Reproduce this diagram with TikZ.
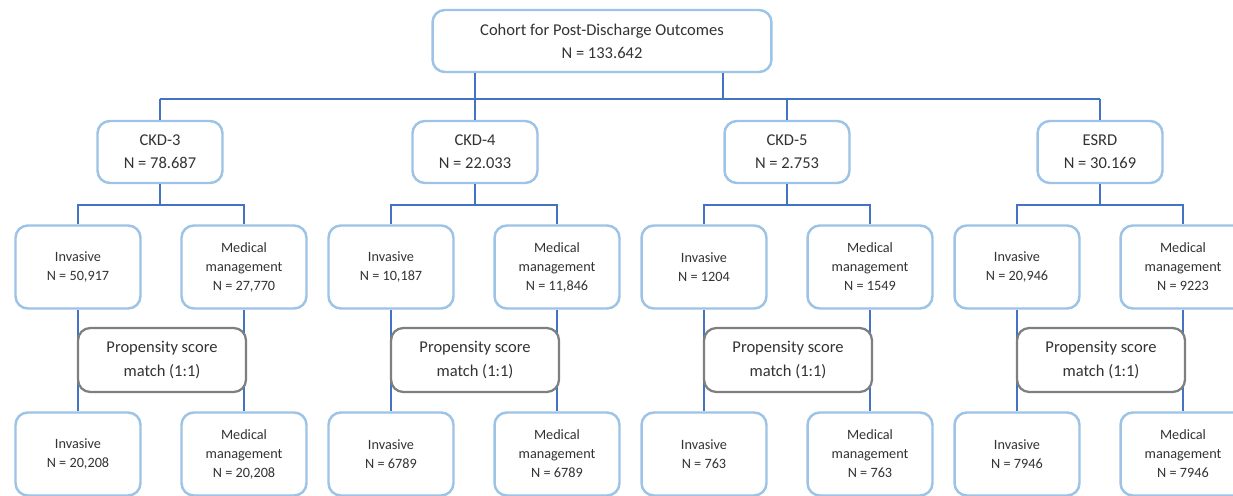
\documentclass[tikz,border=0pt]{standalone}
\usepackage{fontspec}
\setmainfont{Carlito}
\usepackage{tikz}
\usetikzlibrary{positioning,calc}

\definecolor{boxblue}{HTML}{9DC3E6}
\definecolor{linkblue}{HTML}{4472C4}
\definecolor{matchgray}{HTML}{7F7F7F}
\definecolor{txtgray}{HTML}{333333}

\begin{document}
\begin{tikzpicture}[
  x=0.02cm, y=-0.02cm,
  bigbox/.style={draw=boxblue, line width=1.4pt, rounded corners=7pt, fill=white,
    text=txtgray, align=center, font=\fontsize{9.4}{13.2}\selectfont,
    minimum width=2.5cm, minimum height=1.24cm, inner sep=0pt},
  smallbox/.style={draw=boxblue, line width=1.4pt, rounded corners=7pt, fill=white,
    text=txtgray, align=center, font=\fontsize{8.1}{10.8}\selectfont,
    minimum width=2.5cm, minimum height=1.66cm, inner sep=0pt},
  matchbox/.style={draw=matchgray, line width=1.3pt, rounded corners=7pt, fill=white,
    text=txtgray, align=center, font=\fontsize{9.4}{13.2}\selectfont,
    minimum width=3.36cm, minimum height=1.28cm, inner sep=0pt},
  link/.style={draw=linkblue, line width=1.4pt},
  matchlink/.style={draw=linkblue, line width=1.1pt}
]
\useasboundingbox (0,0) rectangle (1233,496);

% top level
\node[bigbox, minimum width=6.78cm] (cohort) at (602,41) {Cohort for Post-Discharge Outcomes\\N = 133.642};

% CKD stages
\node[bigbox] (ckd3) at (160,152) {CKD-3\\N = 78.687};
\node[bigbox] (ckd4) at (475,152) {CKD-4\\N = 22.033};
\node[bigbox] (ckd5) at (787,152) {CKD-5\\N = 2.753};
\node[bigbox] (esrd) at (1100,152) {ESRD\\N = 30.169};

% treatment groups
\node[smallbox] (inv3) at (78,267) {Invasive\\N = 50,917};
\node[smallbox] (med3) at (244,267) {Medical\\management\\N = 27,770};
\node[smallbox] (inv4) at (391,267) {Invasive\\N = 10,187};
\node[smallbox] (med4) at (557,267) {Medical\\management\\N = 11,846};
\node[smallbox] (inv5) at (704,267) {Invasive\\N = 1204};
\node[smallbox] (med5) at (870,267) {Medical\\management\\N = 1549};
\node[smallbox] (inve) at (1017,267) {Invasive\\N = 20,946};
\node[smallbox] (mede) at (1183,267) {Medical\\management\\N = 9223};

% matched groups
\node[smallbox] (minv3) at (78,454) {Invasive\\N = 20,208};
\node[smallbox] (mmed3) at (244,454) {Medical\\management\\N = 20,208};
\node[smallbox] (minv4) at (391,454) {Invasive\\N = 6789};
\node[smallbox] (mmed4) at (557,454) {Medical\\management\\N = 6789};
\node[smallbox] (minv5) at (704,454) {Invasive\\N = 763};
\node[smallbox] (mmed5) at (870,454) {Medical\\management\\N = 763};
\node[smallbox] (minve) at (1017,454) {Invasive\\N = 7946};
\node[smallbox] (mmede) at (1183,454) {Medical\\management\\N = 7946};

% bus under the cohort
\coordinate (busL) at (160,99);
\coordinate (busR) at (1100,99);
\coordinate (drop) at (723,99);
\draw[link] (busL) -- (busR);
\draw[link] (busL) -- (ckd3.north);
\draw[link] (cohort.south -| ckd4.north) -- (ckd4.north);
\draw[link] (cohort.south -| drop) -- (drop);
\draw[link] (busL -| ckd5.north) -- (ckd5.north);
\draw[link] (busR) -- (esrd.north);

% split into treatment groups
\coordinate (b3) at (160,205);
\coordinate (b4) at (475,205);
\coordinate (b5) at (787,205);
\coordinate (be) at (1100,205);
\draw[link] (ckd3.south) -- (b3);
\draw[link] (inv3.north) |- (b3) -| (med3.north);
\draw[link] (ckd4.south) -- (b4);
\draw[link] (inv4.north) |- (b4) -| (med4.north);
\draw[link] (ckd5.south) -- (b5);
\draw[link] (inv5.north) |- (b5) -| (med5.north);
\draw[link] (esrd.south) -- (be);
\draw[link] (inve.north) |- (be) -| (mede.north);

% matching
\draw[matchlink] (inv3) -- (minv3);
\draw[matchlink] (med3) -- (mmed3);
\draw[matchlink] (inv4) -- (minv4);
\draw[matchlink] (med4) -- (mmed4);
\draw[matchlink] (inv5) -- (minv5);
\draw[matchlink] (med5) -- (mmed5);
\draw[matchlink] (inve) -- (minve);
\draw[matchlink] (mede) -- (mmede);

\node[matchbox] (psm3) at (162,360) {Propensity score\\match (1:1)};
\node[matchbox] (psm4) at (475,360) {Propensity score\\match (1:1)};
\node[matchbox] (psm5) at (788,360) {Propensity score\\match (1:1)};
\node[matchbox] (psme) at (1101,360) {Propensity score\\match (1:1)};

\end{tikzpicture}
\end{document}
